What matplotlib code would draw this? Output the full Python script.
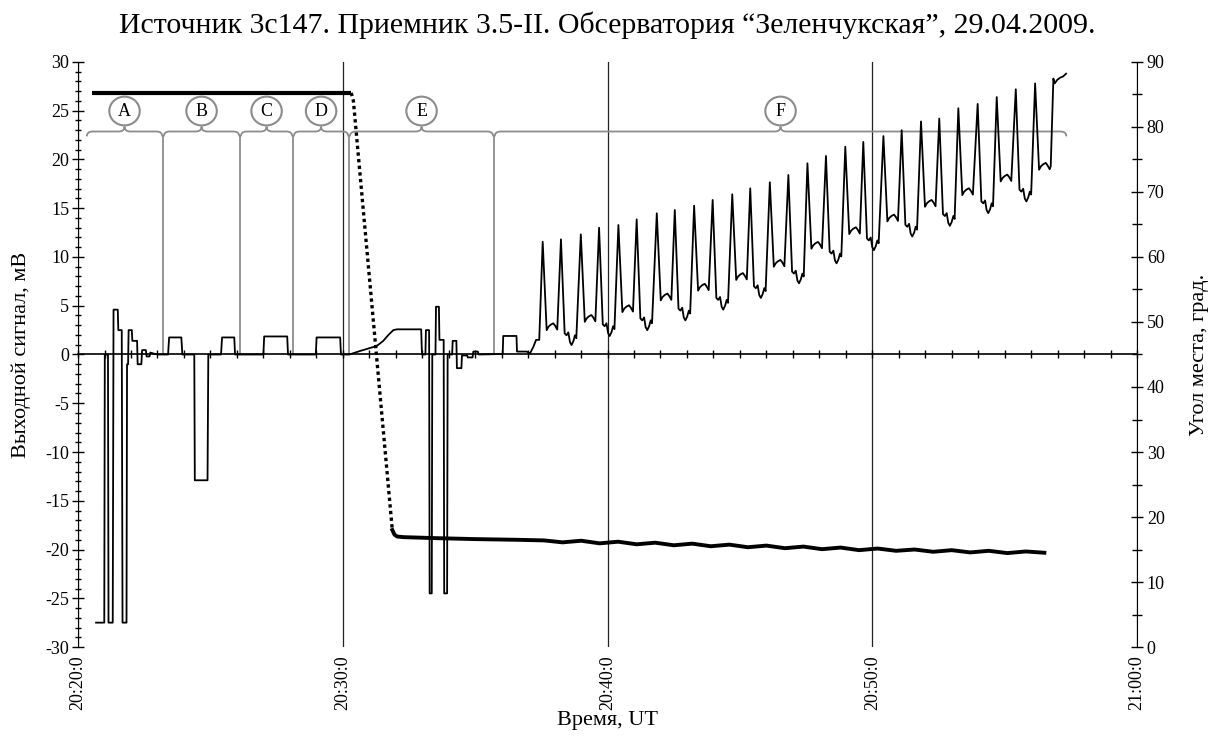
import matplotlib
matplotlib.use('Agg')
from matplotlib import pyplot as plt
from matplotlib.path import Path
from matplotlib.patches import PathPatch, Ellipse
from matplotlib.ticker import MultipleLocator

plt.rcParams['font.family'] = ['Liberation Serif', 'DejaVu Serif']
plt.rcParams['axes.unicode_minus'] = False

# time axis: minutes after 20:20:00 UT
tick_min = [0, 10, 20, 30, 40]
tick_lbl = ['20:20:0', '20:30:0', '20:40:0', '20:50:0', '21:00:0']

# output signal, sections A-E (calibrations, noise steps), minutes / mV
cal_t = [0.68, 0.99, 1.01, 1.13, 1.15, 1.31, 1.34, 1.50, 1.52, 1.65, 1.68, 1.83,
         1.85, 1.89, 1.91, 2.03, 2.05, 2.23, 2.25, 2.39, 2.42, 2.56, 2.59, 2.70,
         2.73, 2.85, 3.00,
         3.40, 3.44, 3.90, 3.94, 4.39, 4.41, 4.89, 4.92, 5.40, 5.44, 5.90, 5.93,
         7.00, 7.03, 7.90, 7.93,
         8.98, 9.01, 9.90, 9.93,
         10.25, 10.65, 11.03, 11.28, 11.53, 11.72, 11.91, 12.04, 12.96, 12.99,
         13.12, 13.14, 13.26, 13.28, 13.36, 13.38, 13.50, 13.52, 13.63, 13.65,
         13.81, 13.83, 13.94, 13.96, 14.13, 14.15, 14.29, 14.31, 14.48, 14.50,
         14.70, 14.72, 14.90, 14.93, 15.10, 15.13,
         16.04, 16.06, 16.56, 16.58, 16.95, 17.07, 17.20, 17.30, 17.42]
cal_v = [-27.5, -27.5, 0.0, 0.0, -27.5, -27.5, 4.6, 4.6, 2.5, 2.5, -27.5, -27.5,
         -1.0, -1.0, 2.5, 2.5, 1.4, 1.4, -1.0, -1.0, 0.45, 0.45, -0.2, -0.2,
         0.2, 0.1, 0.0,
         0.0, 1.75, 1.75, 0.0, 0.0, -12.9, -12.9, 0.0, 0.0, 1.75, 1.75, 0.0,
         0.0, 1.85, 1.85, 0.0,
         0.0, 1.75, 1.75, 0.0,
         0.0, 0.36, 0.67, 0.87, 1.4, 2.0, 2.5, 2.58, 2.58, 0.0,
         0.0, 2.5, 2.5, -24.5, -24.5, 0.0, 0.0, 4.9, 4.9, 1.5,
         1.5, -24.5, -24.5, 0.0, 0.0, 1.4, 1.4, -1.4, -1.4, -0.1,
         -0.1, -0.3, -0.3, 0.3, 0.3, 0.0,
         0.05, 1.9, 1.9, 0.3, 0.3, 0.1, 0.8, 1.5, 1.5]

# section F: source scans, peak times / heights and level after each peak
peak_t = [17.55, 18.24, 18.99, 19.68, 20.41, 21.10, 21.86, 22.54, 23.27, 23.97,
          24.71, 25.39, 26.13, 26.83, 27.55, 28.25, 28.98, 29.66, 30.42, 31.11,
          31.84, 32.53, 33.25, 33.98, 34.70, 35.42, 36.15]
peak_v = [11.57, 11.81, 12.32, 13.0, 13.28, 13.86, 14.48, 14.82, 15.26, 15.85,
          16.43, 17.04, 17.66, 18.41, 19.61, 20.36, 21.3, 21.8, 22.4, 23.0,
          23.9, 24.2, 25.25, 25.7, 26.4, 27.2, 27.8]
gap_v = [2.85, 0.97, 3.7, 1.9, 4.7, 2.5, 5.9, 3.5, 6.9, 4.6,
         8.0, 5.8, 9.35, 7.3, 11.2, 9.35, 12.7, 10.7, 14.0, 12.1,
         15.5, 13.2, 16.7, 14.5, 18.1, 15.7, 19.3]

end_t = [36.74, 36.84, 36.89, 36.98, 37.10, 37.20, 37.32]
end_v = [19.3, 28.3, 27.8, 28.15, 28.4, 28.5, 28.8]

# antenna elevation, degrees
elev_t1 = [0.53, 10.32]
elev_v1 = [85.25, 85.25]
elev_t2 = [10.32, 10.40, 11.87]
elev_v2 = [85.25, 84.0, 18.0]
elev_t3 = [11.87, 11.95, 12.05, 12.30, 13.5, 15.0, 16.5, 17.6, 18.3, 19.0, 19.7,
           20.4, 21.1, 21.8, 22.5, 23.2, 23.9, 24.6, 25.3, 26.0, 26.7, 27.4,
           28.1, 28.8, 29.5, 30.2, 30.9, 31.6, 32.3, 33.0, 33.7, 34.4, 35.1,
           35.8, 36.5]
elev_v3 = [18.0, 17.3, 17.0, 16.9, 16.75, 16.6, 16.5, 16.4, 16.1, 16.35, 15.95,
           16.2, 15.8, 16.05, 15.65, 15.9, 15.5, 15.75, 15.35, 15.6, 15.2, 15.45,
           15.05, 15.3, 14.9, 15.15, 14.8, 15.0, 14.65, 14.9, 14.55, 14.8, 14.45,
           14.7, 14.5]

# section boundaries and names
sect_b = [0.30, 3.21, 6.12, 8.12, 10.24, 15.71, 37.36]
sect_n = ['A', 'B', 'C', 'D', 'E', 'F']

# small wiggles between scan peaks (after odd / even peak)
pl_dt = [0.15, 0.22, 0.30, 0.40, 0.47, 0.55]
pl_dv = [-0.35, 0.0, 0.2, 0.35, 0.1, -0.3]
dip_dt = [0.14, 0.21, 0.28, 0.34, 0.40, 0.47, 0.53, 0.58]
dip_dv = [1.2, 1.0, 1.3, 0.3, 0.0, 0.4, 1.0, 0.7]

sig_t = list(cal_t)
sig_v = list(cal_v)
for i in range(len(peak_t)):
    sig_t.append(peak_t[i])
    sig_v.append(peak_v[i])
    if i % 2 == 0:
        dt, dv = pl_dt, pl_dv
    else:
        dt, dv = dip_dt, dip_dv
    sig_t += [peak_t[i] + d for d in dt]
    sig_v += [gap_v[i] + d for d in dv]
sig_t += end_t
sig_v += end_v


def brace(ax, x0, x1, y, dx, dy, color):
    xm = (x0 + x1) / 2
    verts = [(x0, y - dy), (x0, y), (x0 + dx, y),
             (xm - dx, y), (xm, y), (xm, y + dy),
             (xm, y), (xm + dx, y),
             (x1 - dx, y), (x1, y), (x1, y - dy)]
    codes = [Path.MOVETO, Path.CURVE3, Path.CURVE3,
             Path.LINETO, Path.CURVE3, Path.CURVE3,
             Path.CURVE3, Path.CURVE3,
             Path.LINETO, Path.CURVE3, Path.CURVE3]
    ax.add_patch(PathPatch(Path(verts, codes), fill=False, ec=color, lw=1.3, zorder=2))


fig = plt.figure(figsize=(12.14, 7.37), dpi=100)
ax = fig.add_axes([0.0643, 0.1221, 0.8723, 0.7938])
ax.set_xlim(0, 40)
ax.set_ylim(-30, 30)

ax.spines['top'].set_visible(False)
ax.spines['right'].set_visible(False)
ax.spines['bottom'].set_position(('data', 0))
ax.spines['bottom'].set_linewidth(1.2)

ax.xaxis.set_major_locator(MultipleLocator(10))
ax.xaxis.set_minor_locator(MultipleLocator(1))
ax.tick_params(axis='x', which='both', direction='inout', length=6, width=1,
               labelbottom=False)
ax.yaxis.set_major_locator(MultipleLocator(5))
ax.yaxis.set_minor_locator(MultipleLocator(1))
ax.tick_params(axis='y', which='major', direction='inout', length=9, width=1,
               labelsize=13, pad=2)
ax.tick_params(axis='y', which='minor', direction='inout', length=5, width=1)
ax.xaxis.grid(True, which='major', color='#222222', lw=0.9)
ax.set_ylabel('Выходной сигнал, мВ', fontsize=16, labelpad=10)

# time labels at the bottom edge
sec = ax.secondary_xaxis(0.0)
sec.set_xticks(tick_min, labels=tick_lbl)
sec.tick_params(length=0, pad=6, labelsize=13, labelrotation=90)
sec.spines['bottom'].set_visible(False)
sec.set_xlabel('Время, UT', fontsize=16, labelpad=1)

# section markers
gray = '#8c8c8c'
by = 22.87
bdx = 0.22
bdy = 0.5
for i in range(len(sect_n)):
    x0 = sect_b[i] + 0.03
    x1 = sect_b[i + 1] - 0.03
    brace(ax, x0, x1, by, bdx, bdy, gray)
    xm = (sect_b[i] + sect_b[i + 1]) / 2
    ax.add_patch(Ellipse((xm, 24.97), 1.15, 2.95, fc='white', ec=gray, lw=1.5, zorder=2))
    ax.text(xm, 24.97, sect_n[i], ha='center', va='center', fontsize=13, zorder=3)
for b in sect_b[1:-1]:
    ax.plot([b, b], [by - bdy, 0], color=gray, lw=1.3, zorder=1)

ax.plot(sig_t, sig_v, color='black', lw=1.3, zorder=3)

# elevation on the right axis
ax2 = ax.twinx()
ax2.set_ylim(0, 90)
for s in ['left', 'top', 'bottom']:
    ax2.spines[s].set_visible(False)
ax2.yaxis.set_major_locator(MultipleLocator(10))
ax2.yaxis.set_minor_locator(MultipleLocator(5))
ax2.tick_params(axis='y', which='major', direction='inout', length=8, width=1,
                labelsize=13, pad=3)
ax2.tick_params(axis='y', which='minor', direction='inout', length=7, width=1)
ax2.set_ylabel('Угол места, град.', fontsize=16, labelpad=18)

ax2.plot(elev_t1, elev_v1, color='black', lw=3, solid_capstyle='butt')
ax2.plot(elev_t2, elev_v2, color='black', lw=2.4, linestyle=(0, (1.0, 1.0)))
ax2.plot(elev_t3, elev_v3, color='black', lw=2.8, solid_joinstyle='round')

ax.set_title('Источник 3c147. Приемник 3.5-II. Обсерватория “Зеленчукская”, 29.04.2009.',
             fontsize=21.5, pad=21)

fig.savefig('out.png', dpi=100)
